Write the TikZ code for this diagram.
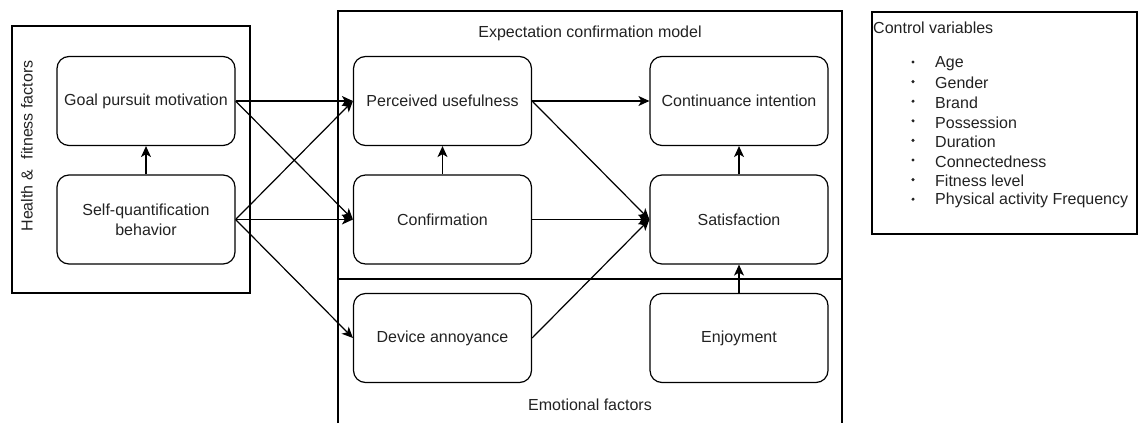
\documentclass[tikz,border=0pt]{standalone}
\usepackage{fontspec}
\setmainfont{Liberation Sans}
\usetikzlibrary{arrows.meta}
\definecolor{ink}{HTML}{222222}
\tikzset{
  box/.style={draw=black, line width=1.2pt, rounded corners=12pt,
    minimum width=178pt, minimum height=89pt, inner sep=2pt,
    align=center, text=ink, font=\fontsize{16}{20}\selectfont},
  lbl/.style={text=ink, font=\fontsize{16}{20}\selectfont, inner sep=0pt},
  frame/.style={draw=black, line width=1.2pt},
  link/.style={draw=black, line width=1.2pt,
    -{Stealth[length=11pt,width=10pt,inset=3pt]}},
}
\begin{document}
\begin{tikzpicture}[x=1pt,y=-1pt]
\useasboundingbox (0,0) rectangle (1139,423);

% group frames
\draw[frame] (12,26) rectangle (250,293);
\draw[frame] (338,423) -- (338,11) -- (842,11) -- (842,423);
\draw[frame] (338,279) -- (842,279);
\draw[frame] (872,12) rectangle (1137,234);

% group captions
\node[lbl, rotate=90] (healthlbl) at (27,146) {Health \&\hspace{0.4em} fitness factors};
\node[lbl] (ecmlbl) at (590,33) {Expectation confirmation model};
\node[lbl] (emolbl) at (590,405) {Emotional factors};

% constructs
\node[box] (goal) at (146,101) {Goal pursuit motivation};
\node[box] (selfq) at (146,219.5) {Self-quantification\\behavior};
\node[box] (pu) at (442.5,101) {Perceived usefulness};
\node[box] (conf) at (442.5,219.5) {Confirmation};
\node[box] (annoy) at (442.5,338) {Device annoyance};
\node[box] (ci) at (739,101) {Continuance intention};
\node[box] (sat) at (739,219.5) {Satisfaction};
\node[box] (enjoy) at (739,338) {Enjoyment};

% paths
\draw[link] (selfq.north) -- (goal.south);
\draw[link] (goal.east) -- (pu.west);
\draw[link] (goal.east) -- (conf.west);
\draw[link] (selfq.east) -- (pu.west);
\draw[link] (selfq.east) -- (conf.west);
\draw[link] (selfq.east) -- (annoy.west);
\draw[link] (conf.north) -- (pu.south);
\draw[link] (pu.east) -- (ci.west);
\draw[link] (pu.east) -- (sat.west);
\draw[link] (conf.east) -- (sat.west);
\draw[link] (annoy.east) -- (sat.west);
\draw[link] (sat.north) -- (ci.south);
\draw[link] (enjoy.north) -- (sat.south);

% control variables list
\node[lbl, anchor=west] (ctrl) at (873,28) {Control variables};
\foreach \t [count=\i from 0] in {Age, Gender, Brand, Possession, Duration,
    Connectedness, Fitness level, Physical activity Frequency} {
  \fill[ink] (913,62+19.6*\i) circle (1.7pt) coordinate (bul\i);
  \node[lbl, anchor=west] (item\i) at (935,63.5+19.6*\i) {\t};
}
\end{tikzpicture}
\end{document}
